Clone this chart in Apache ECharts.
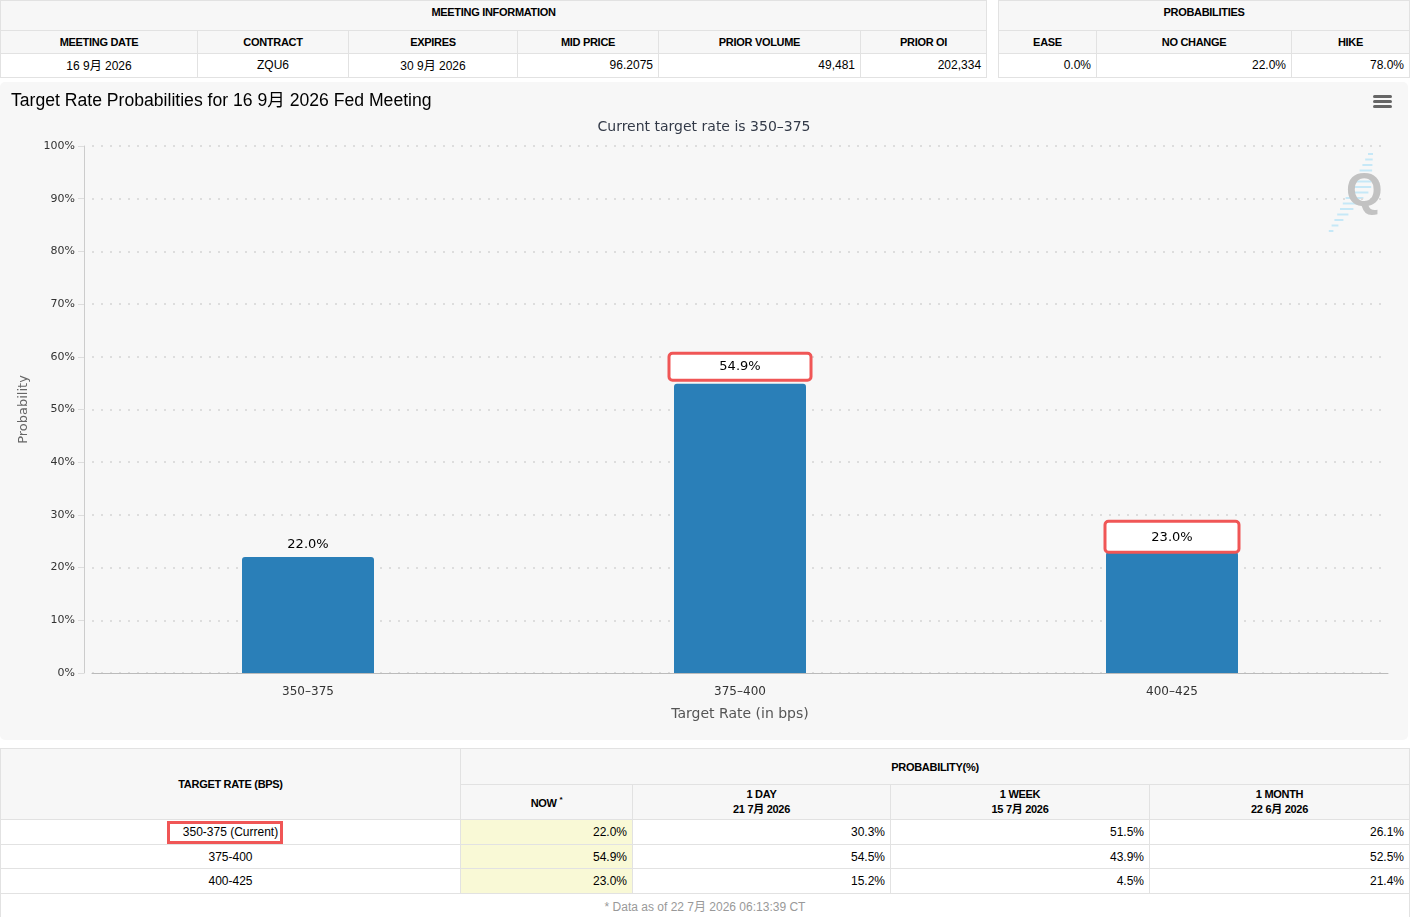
<!DOCTYPE html>
<html lang="en">
<head>
    <meta charset="UTF-8">
    <title>Target Rate Probabilities</title>
    <script src="https://cdn.jsdelivr.net/npm/echarts@6/dist/echarts.min.js"></script>
    <style>
        body { margin: 0; background: #fff; font-family: "Liberation Sans", Arial, "Noto Sans CJK SC", sans-serif; color: #000; }
        table { border-collapse: collapse; position: absolute; table-layout: fixed; }
        td, th { border: 1px solid #e2e2e2; padding: 0 5px; font-size: 12px; white-space: nowrap; }
        th { background: #f7f7f7; font-size: 11px; font-weight: bold; letter-spacing: -0.3px; text-align: center; }
        th.top { vertical-align: top; padding-top: 5px; }
        td { background: #fff; text-align: right; }
        .info td { padding-bottom: 2px; }
        td.c { text-align: center; }
        td.now { background: #f9f9d6; }
        .hl { display: inline-block; border: 3px solid #f05656; padding: 0 2px 0 13px; margin-right: 11px; line-height: 17px; }
        #chart { position: absolute; left: 0; top: 82px; width: 1408px; height: 658px; background: #f7f7f7; border-radius: 5px; }
        .foot { color: #999; text-align: center; }
    </style>
</head>
<body>
<table class="info" style="left:0;top:0;width:986px">
    <colgroup><col style="width:197px"><col style="width:151px"><col style="width:169px"><col style="width:141px"><col style="width:202px"><col style="width:126px"></colgroup>
    <tr style="height:30px"><th class="top" colspan="6">MEETING INFORMATION</th></tr>
    <tr style="height:23px"><th>MEETING DATE</th><th>CONTRACT</th><th>EXPIRES</th><th>MID PRICE</th><th>PRIOR VOLUME</th><th>PRIOR OI</th></tr>
    <tr style="height:24px"><td class="c">16 9月 2026</td><td class="c">ZQU6</td><td class="c">30 9月 2026</td><td>96.2075</td><td>49,481</td><td>202,334</td></tr>
</table>
<table class="info" style="left:998px;top:0;width:411px">
    <colgroup><col style="width:98px"><col style="width:195px"><col style="width:118px"></colgroup>
    <tr style="height:30px"><th class="top" colspan="3">PROBABILITIES</th></tr>
    <tr style="height:23px"><th>EASE</th><th>NO CHANGE</th><th>HIKE</th></tr>
    <tr style="height:24px"><td>0.0%</td><td>22.0%</td><td>78.0%</td></tr>
</table>

<div id="chart"></div>

<table id="probTable" style="left:0;top:748px;width:1409px">
    <colgroup><col style="width:460px"><col style="width:172px"><col style="width:258px"><col style="width:259px"><col style="width:260px"></colgroup>
    <tr style="height:36px"><th rowspan="2">TARGET RATE (BPS)</th><th colspan="4">PROBABILITY(%)</th></tr>
    <tr style="height:35px"><th>NOW <sup style="font-size:8px">*</sup></th><th>1 DAY<br>21 7月 2026</th><th>1 WEEK<br>15 7月 2026</th><th>1 MONTH<br>22 6月 2026</th></tr>
</table>

<script type="text/javascript">
    // chart data
    var categories = ['350–375', '375–400', '400–425'];
    var nowProb = [22.0, 54.9, 23.0];
    // highlighted (red box) labels
    var boxed = [false, true, true];

    // history table data
    var tableRates = ['350-375 (Current)', '375-400', '400-425'];
    var dayProb = [30.3, 54.5, 15.2];
    var weekProb = [51.5, 43.9, 4.5];
    var monthProb = [26.1, 52.5, 21.4];

    // build the bottom table
    var tbl = document.getElementById('probTable');
    var rowH = [25, 24, 25];
    for (var i = 0; i < tableRates.length; i++) {
        var tr = document.createElement('tr');
        tr.style.height = rowH[i] + 'px';
        var rate = i === 0 ? '<span class="hl">' + tableRates[i] + '</span>' : tableRates[i];
        tr.innerHTML = '<td class="c">' + rate + '</td>' +
            '<td class="now">' + nowProb[i].toFixed(1) + '%</td>' +
            '<td>' + dayProb[i].toFixed(1) + '%</td>' +
            '<td>' + weekProb[i].toFixed(1) + '%</td>' +
            '<td>' + monthProb[i].toFixed(1) + '%</td>';
        tbl.appendChild(tr);
    }
    var ft = document.createElement('tr');
    ft.style.height = '24px';
    ft.innerHTML = '<td class="foot" colspan="5">* Data as of 22 7月 2026 06:13:39 CT</td>';
    tbl.appendChild(ft);

    var myChart = echarts.init(document.getElementById('chart'));

    // red highlight boxes around two labels
    var boxStyles = [null, {
        width: 139, padding: [4, 0, 4, 0], distance: 5
    }, {
        width: 131, padding: [7, 0, 5, 0], distance: 1
    }];

    var barData = nowProb.map(function (v, i) {
        if (!boxed[i]) return { value: v };
        var b = boxStyles[i];
        return {
            value: v,
            label: {
                backgroundColor: '#fff',
                borderColor: '#f05656',
                borderWidth: 3,
                borderRadius: 2,
                width: b.width,
                align: 'center',
                padding: b.padding,
                lineHeight: 16,
                distance: b.distance
            }
        };
    });

    // watermark stripes
    var stripes = [];
    for (var k = 0; k < 15; k++) {
        var w = k < 7 ? 5 + k * 2.5 : Math.max(4, 20 - (k - 7) * 2.2);
        stripes.push({
            type: 'rect',
            shape: { x: 1368 - k * 2.8, y: 71 + k * 5.5, width: w, height: 2 },
            style: { fill: '#c6e8f7' },
            z: 0
        });
    }

    var option = {
        backgroundColor: 'transparent',
        animation: false,
        title: [{
            text: 'Target Rate Probabilities for 16 9月 2026 Fed Meeting',
            left: 6,
            top: 5,
            textStyle: { fontFamily: 'Liberation Sans, Arial, Noto Sans CJK SC', fontSize: 17.6, fontWeight: 'normal', color: '#000' }
        }, {
            text: 'Current target rate is 350–375',
            left: 'center',
            top: 33,
            textStyle: { fontFamily: 'DejaVu Sans', fontSize: 14, fontWeight: 'normal', color: '#333a48' }
        }],
        graphic: stripes.concat([{
            type: 'text',
            left: 1346,
            top: 87,
            style: { text: 'Q', font: 'bold 47px Liberation Sans', fill: '#c2c2c2' },
            z: 1
        }, {
            type: 'group',
            left: 1373,
            top: 13,
            children: [0, 5, 10].map(function (y) {
                return { type: 'rect', shape: { x: 0, y: y, width: 19, height: 3, r: 1.5 }, style: { fill: '#666' } };
            })
        }]),
        grid: {
            left: 92,
            top: 64,
            width: 1296,
            height: 527
        },
        xAxis: {
            type: 'category',
            data: categories,
            name: 'Target Rate (in bps)',
            nameLocation: 'middle',
            nameGap: 34,
            nameTextStyle: { fontFamily: 'DejaVu Sans', fontSize: 14, color: '#555' },
            axisLine: { lineStyle: { color: '#bbb' } },
            axisTick: { alignWithLabel: true, length: 8, lineStyle: { color: '#ddd' } },
            axisLabel: { fontFamily: 'DejaVu Sans', fontSize: 12, color: '#333', margin: 13 }
        },
        yAxis: {
            type: 'value',
            min: 0,
            max: 100,
            interval: 10,
            offset: 8,
            name: 'Probability',
            nameLocation: 'middle',
            nameGap: 54,
            nameTextStyle: { fontFamily: 'DejaVu Sans', fontSize: 13, color: '#666' },
            axisLine: { show: true, lineStyle: { color: '#ccc' } },
            axisTick: { show: true, length: 6, lineStyle: { color: '#ddd' } },
            axisLabel: { formatter: '{value}%', fontFamily: 'DejaVu Sans', fontSize: 11, color: '#333', margin: 9 },
            splitLine: { lineStyle: { color: '#ddd', width: 2, type: [2, 7] } }
        },
        series: [{
            name: 'Now',
            type: 'bar',
            barWidth: 132,
            data: barData,
            itemStyle: { color: '#2a7fb8', borderRadius: [3, 3, 0, 0] },
            label: {
                show: true,
                position: 'top',
                distance: 6,
                formatter: function (p) { return p.value.toFixed(1) + '%'; },
                fontFamily: 'DejaVu Sans',
                fontSize: 13,
                color: '#000'
            }
        }]
    };

    myChart.setOption(option);
</script>
</body>
</html>
